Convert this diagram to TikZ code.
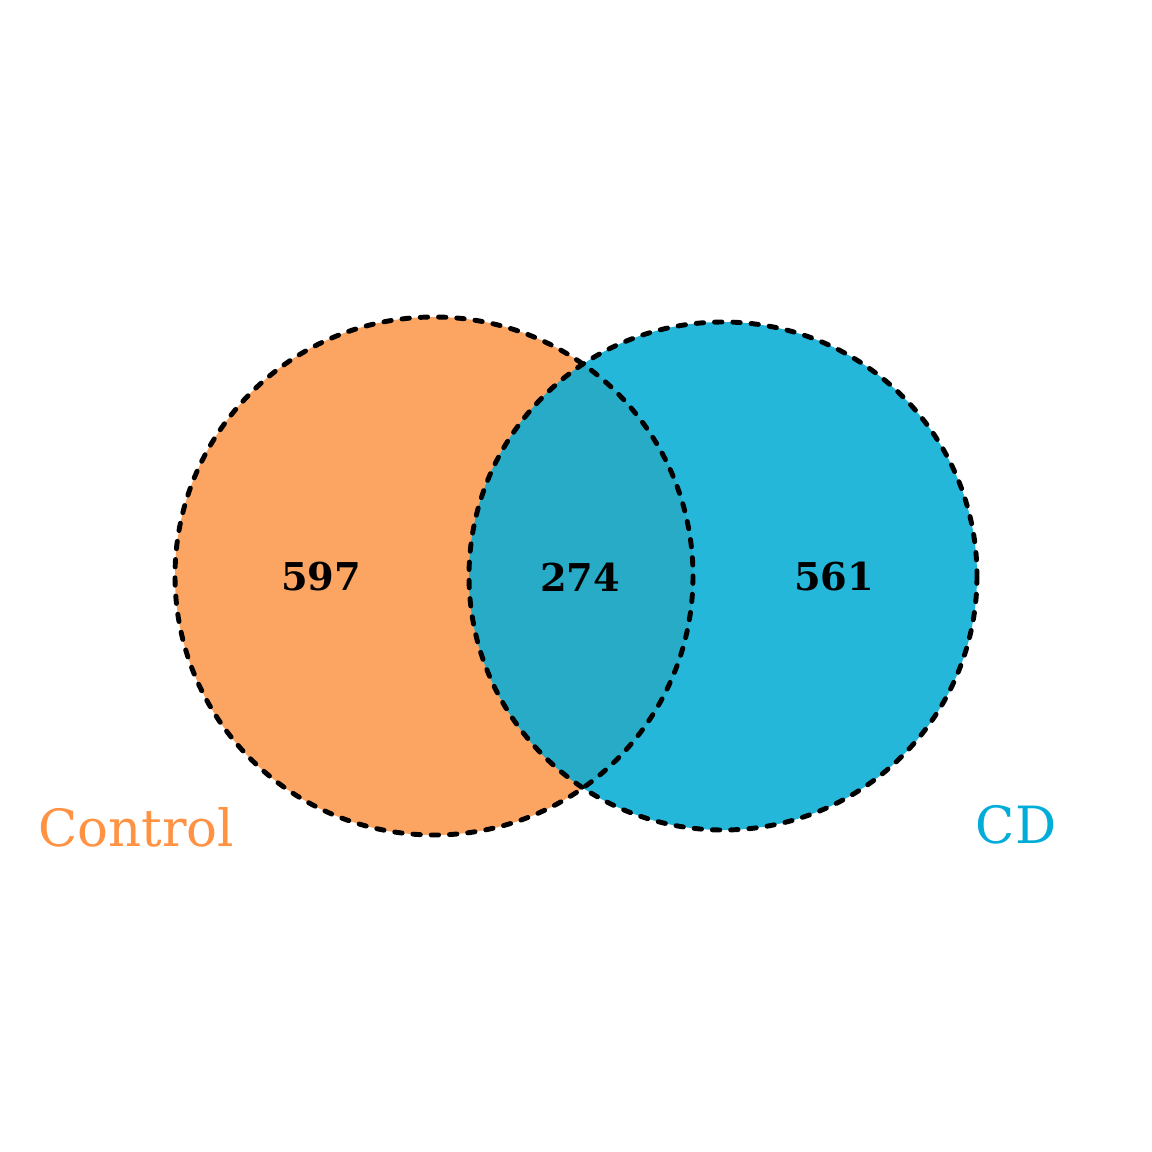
\documentclass[tikz,border=0pt]{standalone}
\usepackage{fontspec}
\setmainfont{DejaVu Serif}
\definecolor{ctrlfill}{HTML}{FCA462}
\definecolor{cdfill}{HTML}{25B7DA}
\definecolor{bothfill}{HTML}{27ABC6}
\definecolor{ctrltext}{HTML}{FF9243}
\definecolor{cdtext}{HTML}{00ADD8}
\begin{document}
\begin{tikzpicture}[x=0.01cm, y=-0.01cm,
  rim/.style = {draw=black, line width=1.4pt, line cap=round, dash pattern=on 2.1pt off 3.1pt},
  count/.style = {font=\bfseries\fontsize{10.9}{13}\selectfont},
  setname/.style = {font=\fontsize{14.6}{17}\selectfont}]
\useasboundingbox (0,0) rectangle (1152,1152);
\fill[ctrlfill] (434,576) circle (259);
\fill[cdfill] (723,576) circle (254);
\begin{scope}
  \clip (434,576) circle (259);
  \fill[bothfill] (723,576) circle (254);
\end{scope}
\draw[rim] (434,576) circle (259);
\draw[rim] (723,576) circle (254);
\node[count] (onlyctrl) at (321,577) {597};
\node[count] (shared) at (580,577) {274};
\node[count] (onlycd) at (834,577) {561};
\node[setname, text=ctrltext] (ctrl) at (136,827) {Control};
\node[setname, text=cdtext] (cd) at (1016,825) {CD};
\end{tikzpicture}
\end{document}
